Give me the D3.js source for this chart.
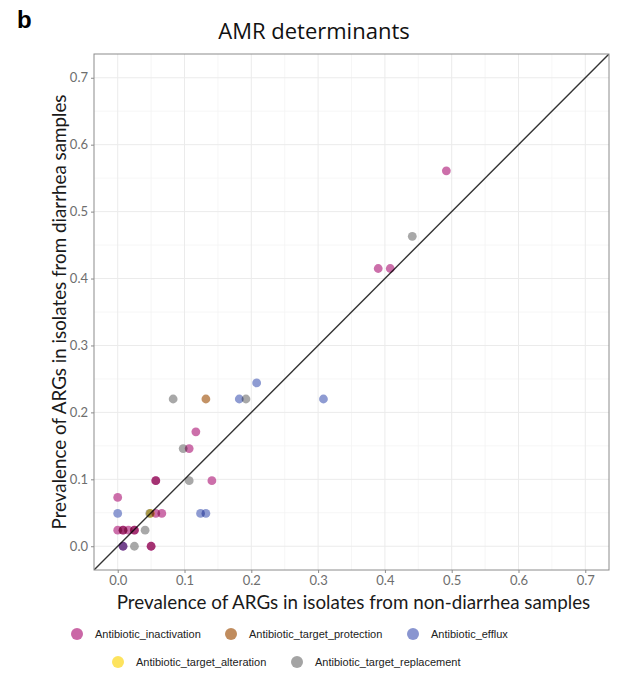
<!DOCTYPE html>
<html>
<head>
<meta charset="utf-8">
<script src="https://cdn.jsdelivr.net/npm/d3@7"></script>
<style>
  body { margin: 0; background: #fff; }
  svg { display: block; font-family: "Lato", "Noto Sans", sans-serif; }
  .pt { mix-blend-mode: multiply; }
</style>
</head>
<body>
<div id="chart"></div>
<script>
// AMR determinants: prevalence in diarrhea vs non-diarrhea isolates

const categories = ["Antibiotic_inactivation", "Antibiotic_target_protection", "Antibiotic_efflux",
                    "Antibiotic_target_alteration", "Antibiotic_target_replacement"];
const palette = ["#C4579C", "#B9804C", "#7C8ACB", "#FDE04C", "#9A9A9A"];

// [non-diarrhea, diarrhea] per category
const inactivation = [[0.492, 0.561], [0.390, 0.415], [0.408, 0.415], [0.117, 0.171], [0.107, 0.146],
                      [0.057, 0.098], [0.057, 0.098], [0.141, 0.098], [0.000, 0.073], [0.057, 0.049],
                      [0.066, 0.049], [0.000, 0.024], [0.008, 0.024], [0.008, 0.024], [0.016, 0.024],
                      [0.025, 0.024], [0.025, 0.024], [0.008, 0.000], [0.050, 0.000], [0.050, 0.000]];
const targetProtection = [[0.132, 0.220]];
const efflux = [[0.208, 0.244], [0.182, 0.220], [0.308, 0.220], [0.000, 0.049], [0.124, 0.049],
                [0.132, 0.049], [0.008, 0.000]];
const targetAlteration = [[0.049, 0.049]];
const targetReplacement = [[0.441, 0.463], [0.083, 0.220], [0.192, 0.220], [0.098, 0.146],
                           [0.107, 0.098], [0.048, 0.049], [0.041, 0.024], [0.025, 0.000]];

const seriesData = [inactivation, targetProtection, efflux, targetAlteration, targetReplacement];
const tickValues = [0, 0.1, 0.2, 0.3, 0.4, 0.5, 0.6, 0.7];
const minorValues = [0.05, 0.15, 0.25, 0.35, 0.45, 0.55, 0.65];

const W = 635, H = 675;
const panel = { left: 94, right: 609, top: 54, bottom: 570 };

const svg = d3.select("#chart").append("svg").attr("width", W).attr("height", H);

const x = d3.scaleLinear().domain([-0.0355, 0.7355]).range([panel.left, panel.right]);
const y = d3.scaleLinear().domain([-0.0355, 0.7355]).range([panel.bottom, panel.top]);

svg.append("rect").attr("width", W).attr("height", H).attr("fill", "#fff");

// grid
const grid = svg.append("g");
grid.selectAll(".minx").data(minorValues).join("line")
    .attr("x1", d => x(d)).attr("x2", d => x(d)).attr("y1", panel.top).attr("y2", panel.bottom)
    .attr("stroke", "#F4F4F4").attr("stroke-width", 0.8);
grid.selectAll(".miny").data(minorValues).join("line")
    .attr("y1", d => y(d)).attr("y2", d => y(d)).attr("x1", panel.left).attr("x2", panel.right)
    .attr("stroke", "#F4F4F4").attr("stroke-width", 0.8);
grid.selectAll(".majx").data(tickValues).join("line")
    .attr("x1", d => x(d)).attr("x2", d => x(d)).attr("y1", panel.top).attr("y2", panel.bottom)
    .attr("stroke", "#EBEBEB").attr("stroke-width", 1);
grid.selectAll(".majy").data(tickValues).join("line")
    .attr("y1", d => y(d)).attr("y2", d => y(d)).attr("x1", panel.left).attr("x2", panel.right)
    .attr("stroke", "#EBEBEB").attr("stroke-width", 1);

// axes
const fmt = d3.format(".1f");
const xAxis = svg.append("g").attr("transform", `translate(0,${panel.bottom})`)
    .call(d3.axisBottom(x).tickValues(tickValues).tickFormat(fmt).tickSize(3).tickPadding(3));
const yAxis = svg.append("g").attr("transform", `translate(${panel.left},0)`)
    .call(d3.axisLeft(y).tickValues(tickValues).tickFormat(fmt).tickSize(3).tickPadding(3));
[xAxis, yAxis].forEach(a => {
    a.select(".domain").remove();
    a.selectAll(".tick line").attr("stroke", "#8a8a8a");
    a.selectAll(".tick text").attr("fill", "#6e6e6e").style("font-size", "13px")
        .style("font-family", "Lato, 'Noto Sans', sans-serif");
});

// clip to panel
svg.append("clipPath").attr("id", "clip").append("rect")
    .attr("x", panel.left).attr("y", panel.top)
    .attr("width", panel.right - panel.left).attr("height", panel.bottom - panel.top);

const plot = svg.append("g").attr("clip-path", "url(#clip)");

// y = x reference
plot.append("line")
    .attr("x1", x(-0.0355)).attr("y1", y(-0.0355)).attr("x2", x(0.7355)).attr("y2", y(0.7355))
    .attr("stroke", "#333").attr("stroke-width", 1.4);

// points
seriesData.forEach((pts, i) => {
    plot.append("g").selectAll("circle").data(pts).join("circle")
        .attr("class", "pt")
        .attr("cx", d => x(d[0])).attr("cy", d => y(d[1])).attr("r", 4.4)
        .attr("fill", palette[i]).attr("fill-opacity", 0.86);
});

// panel border
svg.append("rect")
    .attr("x", panel.left).attr("y", panel.top)
    .attr("width", panel.right - panel.left).attr("height", panel.bottom - panel.top)
    .attr("fill", "none").attr("stroke", "#8c8c8c").attr("stroke-width", 1);

// titles
svg.append("text").attr("x", 17).attr("y", 28).text("b")
    .style("font-family", "'Liberation Sans', Arial, sans-serif").style("font-weight", "bold")
    .style("font-size", "24px").attr("fill", "#000");

svg.append("text").attr("x", 314).attr("y", 39)
    .attr("text-anchor", "middle").text("AMR determinants")
    .style("font-family", "'Open Sans', 'Noto Sans', sans-serif")
    .style("font-size", "22px").attr("fill", "#111");

svg.append("text").attr("x", (panel.left + panel.right) / 2 + 2).attr("y", 609)
    .attr("text-anchor", "middle").text("Prevalence of ARGs in isolates from non-diarrhea samples")
    .style("font-size", "18.8px").attr("fill", "#1a1a1a");

svg.append("text").attr("transform", `translate(66,${(panel.top + panel.bottom) / 2}) rotate(-90)`)
    .attr("text-anchor", "middle").text("Prevalence of ARGs in isolates from diarrhea samples")
    .style("font-size", "18.8px").attr("fill", "#1a1a1a");

// legend
const legendPos = [[77, 634], [231, 634], [413, 634], [118, 662], [297, 662]];
const legend = svg.append("g");
categories.forEach((c, i) => {
    const g = legend.append("g").attr("transform", `translate(${legendPos[i][0]},${legendPos[i][1]})`);
    g.append("circle").attr("r", 6).attr("fill", palette[i]).attr("fill-opacity", 0.9);
    g.append("text").attr("x", 18).attr("dy", "0.35em").text(c)
        .style("font-family", "'Liberation Sans', Arial, sans-serif").style("font-size", "11px")
        .attr("fill", "#222");
});
</script>
</body>
</html>
